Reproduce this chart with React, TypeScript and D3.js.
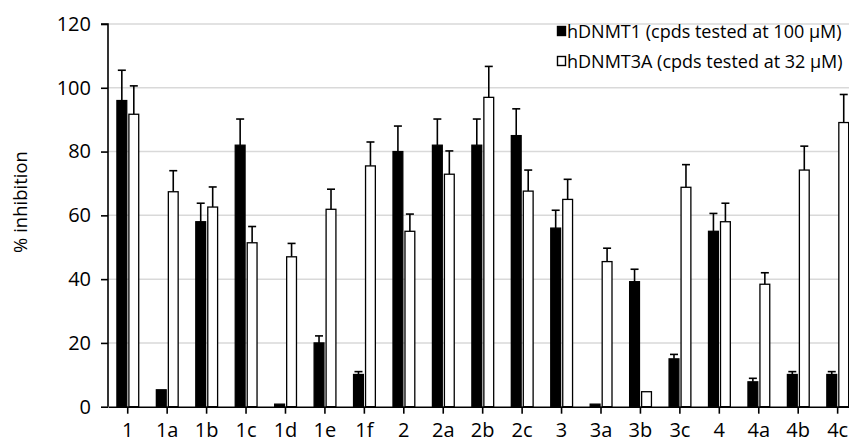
import React, { useRef, useEffect } from 'react';
import * as d3 from 'd3';

// compounds on the x axis
const compounds = ['1', '1a', '1b', '1c', '1d', '1e', '1f', '2', '2a', '2b', '2c', '3', '3a', '3b', '3c', '4', '4a', '4b', '4c'];

// % inhibition, hDNMT1 at 100 µM
const dnmt1 = [96, 5.3, 58, 82, 0.8, 20, 10.1, 80, 82, 82, 85, 56, 0.8, 39.2, 15, 55, 7.8, 10.1, 10.1];
const dnmt1Err = [9.5, 0, 5.8, 8.2, 0, 2.2, 0.9, 8, 8.2, 8.2, 8.4, 5.6, 0, 3.9, 1.4, 5.6, 1.1, 0.9, 0.9];

// % inhibition, hDNMT3A at 32 µM
const dnmt3a = [91.7, 67.4, 62.6, 51.4, 47, 61.9, 75.5, 55, 72.9, 97, 67.6, 65, 45.5, 4.7, 68.8, 58, 38.4, 74.2, 89.1];
const dnmt3aErr = [8.9, 6.6, 6.3, 5.1, 4.2, 6.3, 7.5, 5.4, 7.3, 9.7, 6.6, 6.3, 4.2, 0, 7.1, 5.8, 3.6, 7.5, 8.8];

const yTicks = [0, 20, 40, 60, 80, 100, 120];

const seriesNames = ['hDNMT1 (cpds tested at 100 µM)', 'hDNMT3A (cpds tested at 32 µM)'];

const width = 849;
const height = 446;
const font = '"Open Sans", "Noto Sans", sans-serif';

const App = () => {
  const ref = useRef<SVGSVGElement | null>(null);

  useEffect(() => {
    if (!ref.current) return;
    const margin = { top: 24, left: 108, bottom: 39.3 };
    const step = 39.44;

    const x = d3
      .scaleBand<string>()
      .domain(compounds)
      .range([margin.left, margin.left + step * compounds.length])
      .paddingInner(0)
      .paddingOuter(0);

    const xSub = d3.scaleBand<number>().domain([0, 1]).range([-10.8, 11]).paddingInner(0.18);

    const y = d3.scaleLinear().domain([0, 120]).range([height - margin.bottom, margin.top]);

    const svg = d3.select(ref.current);
    svg.selectAll('*').remove();

    // gridlines
    svg
      .append('g')
      .selectAll('line')
      .data(yTicks.filter((t) => t > 0))
      .join('line')
      .attr('x1', margin.left)
      .attr('x2', width)
      .attr('y1', (d) => y(d))
      .attr('y2', (d) => y(d))
      .attr('stroke', '#d9d9d9')
      .attr('stroke-width', 1.5);

    const data = compounds.map((c, i) => [
      { c, k: 0, v: dnmt1[i], e: dnmt1Err[i] },
      { c, k: 1, v: dnmt3a[i], e: dnmt3aErr[i] },
    ]);

    const groups = svg
      .append('g')
      .selectAll('g')
      .data(data)
      .join('g')
      .attr('transform', (d) => `translate(${(x(d[0].c) || 0) + x.bandwidth() / 2},0)`);

    // error bars (upper only)
    const err = groups
      .selectAll('g.err')
      .data((d) => d.filter((b) => b.e > 0))
      .join('g')
      .attr('class', 'err')
      .attr('stroke', '#000')
      .attr('stroke-width', 1.6);
    err
      .append('line')
      .attr('x1', (d) => (xSub(d.k) || 0) + xSub.bandwidth() / 2)
      .attr('x2', (d) => (xSub(d.k) || 0) + xSub.bandwidth() / 2)
      .attr('y1', (d) => y(d.v))
      .attr('y2', (d) => y(d.v + d.e));
    err
      .append('line')
      .attr('x1', (d) => (xSub(d.k) || 0) + xSub.bandwidth() / 2 - 4)
      .attr('x2', (d) => (xSub(d.k) || 0) + xSub.bandwidth() / 2 + 4)
      .attr('y1', (d) => y(d.v + d.e))
      .attr('y2', (d) => y(d.v + d.e));

    groups
      .selectAll('rect')
      .data((d) => d)
      .join('rect')
      .attr('x', (d) => xSub(d.k) || 0)
      .attr('width', xSub.bandwidth())
      .attr('y', (d) => y(d.v))
      .attr('height', (d) => y(0) - y(d.v))
      .attr('fill', (d) => (d.k === 0 ? '#000' : '#fff'))
      .attr('stroke', '#000')
      .attr('stroke-width', 1.3);

    // y axis
    const yAxis = svg
      .append('g')
      .attr('transform', `translate(${margin.left},0)`)
      .call(d3.axisLeft(y).tickValues(yTicks).tickSize(7).tickPadding(10));
    yAxis.select('.domain').attr('stroke-width', 1.6).attr('d', `M-7,${y(120)}H0V${y(0)}`);
    yAxis.selectAll('line').attr('stroke-width', 1.6);
    yAxis.selectAll('text').attr('font-family', font).attr('font-size', 20).attr('fill', '#000');

    // x axis
    const xAxis = svg
      .append('g')
      .attr('transform', `translate(0,${y(0)})`)
      .call(d3.axisBottom(x).tickSize(7).tickPadding(9).tickSizeOuter(0));
    xAxis.select('.domain').attr('stroke-width', 1.6);
    xAxis.selectAll('line').attr('stroke-width', 1.6);
    xAxis.selectAll('text').attr('font-family', font).attr('font-size', 20).attr('fill', '#000');

    // y label
    svg
      .append('text')
      .attr('transform', `translate(27,202) rotate(-90)`)
      .attr('text-anchor', 'middle')
      .attr('font-family', font)
      .attr('font-size', 18.5)
      .text('% inhibition');

    // legend
    const legend = svg
      .append('g')
      .selectAll('g')
      .data(seriesNames)
      .join('g')
      .attr('transform', (_, i) => `translate(557,${31 + i * 30})`);
    legend
      .append('rect')
      .attr('x', 0.5)
      .attr('y', -4.5)
      .attr('width', 8)
      .attr('height', 9)
      .attr('fill', (_, i) => (i === 0 ? '#000' : '#fff'))
      .attr('stroke', '#000')
      .attr('stroke-width', 1.4);
    legend
      .append('text')
      .attr('x', 10)
      .attr('y', 6.5)
      .attr('font-family', font)
      .attr('font-size', 18)
      .text((d) => d);
  }, []);

  return (
    <>
      <style>{'body{margin:0}'}</style>
      <svg ref={ref} width={width} height={height} style={{ display: 'block', background: '#fff' }} />
    </>
  );
};

export default App;
